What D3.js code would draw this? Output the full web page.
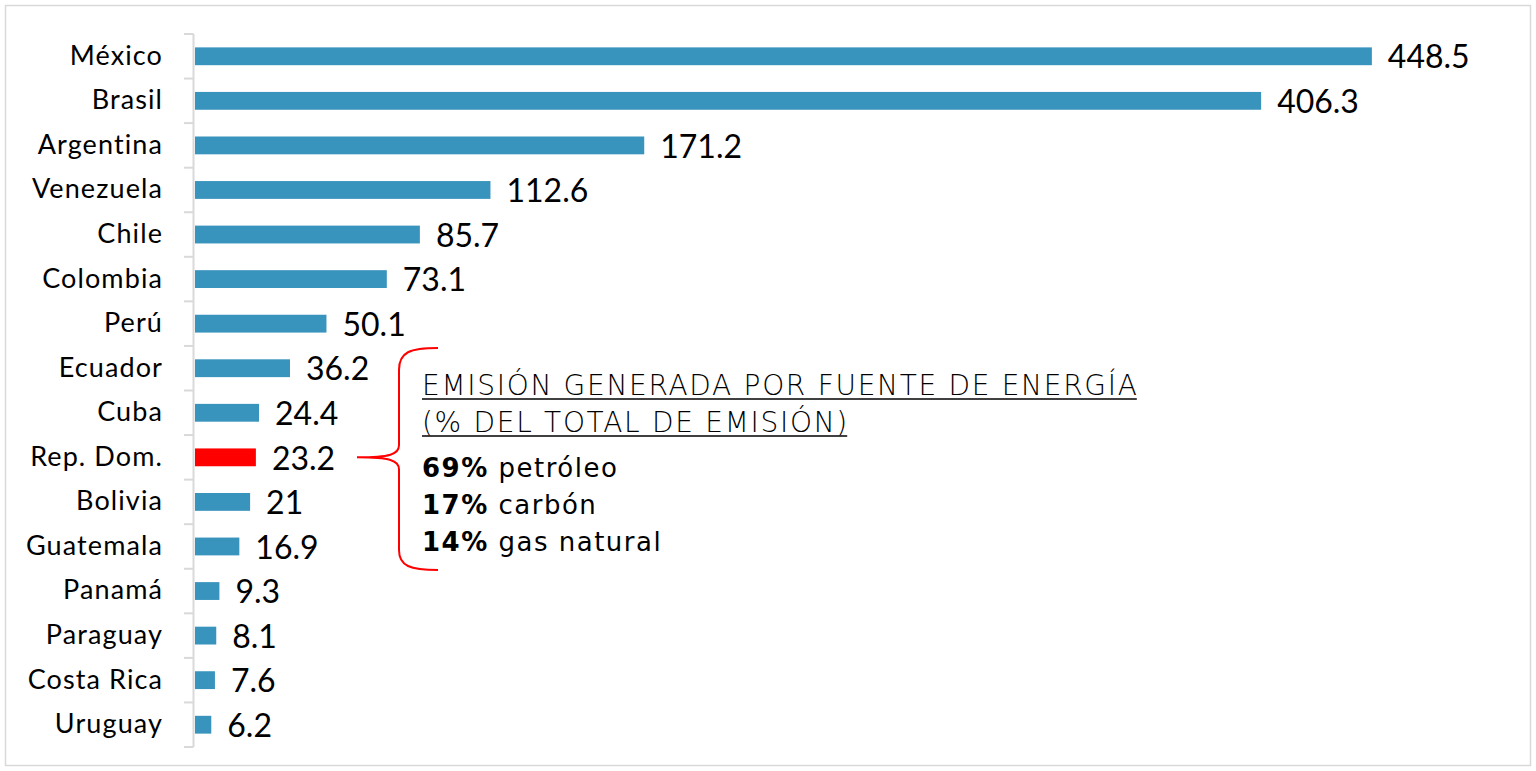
<!DOCTYPE html>
<html>
<head>
<meta charset="utf-8">
<script src="https://cdn.jsdelivr.net/npm/d3@7"></script>
<style>
  body { margin: 0; background: #fff; }
  svg { display: block; }
</style>
</head>
<body>
<div class="plot"></div>
<script>
// DATA
var countries = ["México", "Brasil", "Argentina", "Venezuela", "Chile", "Colombia", "Perú", "Ecuador",
  "Cuba", "Rep. Dom.", "Bolivia", "Guatemala", "Panamá", "Paraguay", "Costa Rica", "Uruguay"];
var values = [448.5, 406.3, 171.2, 112.6, 85.7, 73.1, 50.1, 36.2, 24.4, 23.2, 21, 16.9, 9.3, 8.1, 7.6, 6.2];
var highlight = "Rep. Dom.";
var noteTitle = ["EMISIÓN GENERADA POR FUENTE DE ENERGÍA", "(% DEL TOTAL DE EMISIÓN)"];
var notePct = ["69%", "17%", "14%"];
var noteSource = ["petróleo", "carbón", "gas natural"];

var w = 1536, h = 771;
var blue = "#3994bd", red = "#ff0000", grey = "#d9d9d9";

var svg = d3.select(".plot").append("svg").attr("width", w).attr("height", h);

// chart frame
svg.append("rect")
  .attr("x", 5.5).attr("y", 5.5)
  .attr("width", w - 11).attr("height", h - 11)
  .attr("fill", "none").attr("stroke", grey).attr("stroke-width", 1.5);

// SCALES
var yScale = d3.scaleBand()
  .domain(countries)
  .range([34, 747])
  .paddingInner(0.6)
  .paddingOuter(0.3);

var xScale = d3.scaleLinear()
  .domain([0, 500])
  .range([195, 1507]);

var step = yScale.step();

// axis line + ticks between categories
var axisX = 193.5;
svg.append("line")
  .attr("x1", axisX).attr("x2", axisX)
  .attr("y1", yScale.range()[0]).attr("y2", yScale.range()[1])
  .attr("stroke", grey).attr("stroke-width", 2);

var tickYs = countries.map(function (c) { return yScale(c) - step * 0.3; });
tickYs.push(yScale.range()[1]);
svg.selectAll(".tick")
  .data(tickYs)
  .enter()
  .append("line")
  .attr("class", "tick")
  .attr("x1", 184).attr("x2", axisX)
  .attr("y1", function (d) { return d; })
  .attr("y2", function (d) { return d; })
  .attr("stroke", grey).attr("stroke-width", 2);

// category labels
svg.selectAll(".cat")
  .data(countries)
  .enter()
  .append("text")
  .attr("class", "cat")
  .attr("x", 163)
  .attr("y", function (d) { return yScale(d) + yScale.bandwidth() / 2 - 1; })
  .attr("dy", "0.35em")
  .attr("text-anchor", "end")
  .attr("font-family", "Lato, sans-serif")
  .attr("font-size", "27px")
  .attr("letter-spacing", "1.1px")
  .attr("fill", "#000")
  .text(function (d) { return d; });

// BARS
svg.selectAll(".bar")
  .data(countries)
  .enter()
  .append("rect")
  .attr("class", "bar")
  .attr("x", xScale(0))
  .attr("y", function (d) { return yScale(d); })
  .attr("height", yScale.bandwidth())
  .attr("width", function (d, i) { return xScale(values[i]) - xScale(0); })
  .attr("fill", function (d) { return d === highlight ? red : blue; });

// value labels
svg.selectAll(".val")
  .data(countries)
  .enter()
  .append("text")
  .attr("class", "val")
  .attr("x", function (d, i) { return xScale(values[i]) + 16; })
  .attr("y", function (d) { return yScale(d) + yScale.bandwidth() / 2 + 1; })
  .attr("dy", "0.35em")
  .attr("font-family", "Lato, sans-serif")
  .attr("font-size", "32px")
  .attr("fill", "#000")
  .text(function (d, i) { return String(values[i]); });

// BRACE
var by = yScale(highlight) + yScale.bandwidth() / 2;
var brace = d3.path();
brace.moveTo(438, 348);
brace.bezierCurveTo(410, 348, 399, 352, 399, 370);
brace.lineTo(399, by - 12);
brace.bezierCurveTo(399, by - 3, 390, by, 357, by);
brace.moveTo(357, by);
brace.bezierCurveTo(390, by, 399, by + 3, 399, by + 12);
brace.lineTo(399, 550);
brace.bezierCurveTo(399, 566, 410, 570, 438, 570);
svg.append("path")
  .attr("d", brace.toString())
  .attr("fill", "none")
  .attr("stroke", red)
  .attr("stroke-width", 2);

// NOTE
var note = svg.append("g").attr("font-family", "'DejaVu Sans', sans-serif").attr("fill", "#000");
var titleYs = [395, 432];
noteTitle.forEach(function (t, i) {
  var txt = note.append("text")
    .attr("x", 422).attr("y", titleYs[i])
    .attr("font-size", "28px")
    .attr("font-weight", 300)
    .attr("letter-spacing", "1.7px")
    .text(t);
  var len = txt.node().getComputedTextLength() - 1.7;
  note.append("line")
    .attr("x1", 422).attr("x2", 422 + len)
    .attr("y1", titleYs[i] + 4).attr("y2", titleYs[i] + 4)
    .attr("stroke", "#000").attr("stroke-width", 1.5);
});

var lineYs = [477, 514, 551];
notePct.forEach(function (p, i) {
  var txt = note.append("text")
    .attr("x", 422).attr("y", lineYs[i])
    .attr("font-size", "26px")
    .attr("letter-spacing", "1.5px");
  txt.append("tspan").attr("font-weight", "bold").text(p);
  txt.append("tspan").text(" " + noteSource[i]);
});
</script>
</body>
</html>
